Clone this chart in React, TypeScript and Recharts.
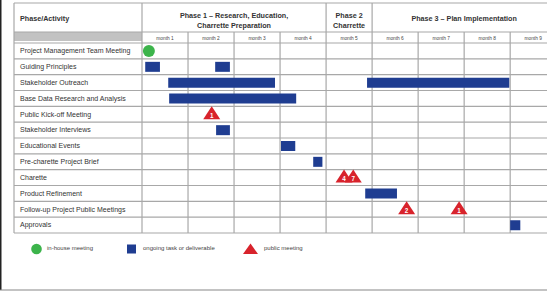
import React from "react";
import { ComposedChart, Bar, Scatter, XAxis, YAxis, Legend } from "recharts";

// ---------- data ----------
const ACTIVITIES = [
  "Project Management Team Meeting",
  "Guiding Principles",
  "Stakeholder Outreach",
  "Base Data Research and Analysis",
  "Public Kick-off Meeting",
  "Stakeholder Interviews",
  "Educational Events",
  "Pre-charette Project Brief",
  "Charette",
  "Product Refinement",
  "Follow-up Project Public Meetings",
  "Approvals",
];

const MONTHS = ["month 1", "month 2", "month 3", "month 4", "month 5", "month 6", "month 7", "month 8", "month 9"];

// [start, end] in months (0 = start of month 1)
const TASK_SEGMENT_1: ([number, number] | null)[] = [
  null,
  [0.07, 0.39],
  [0.57, 2.89],
  [0.59, 3.35],
  null,
  [1.61, 1.91],
  [3.02, 3.33],
  [3.72, 3.92],
  null,
  [4.85, 5.54],
  null,
  [8.0, 8.22],
];
const TASK_SEGMENT_2: ([number, number] | null)[] = [
  null,
  [1.59, 1.91],
  [4.89, 7.98],
  null, null, null, null, null, null, null, null, null,
];

const IN_HOUSE_MEETINGS = [{ activity: ACTIVITIES[0], month: 0.15 }];
const PUBLIC_MEETINGS = [
  { activity: ACTIVITIES[4], month: 1.515, label: "1" },
  { activity: ACTIVITIES[8], month: 4.39, label: "4" },
  { activity: ACTIVITIES[8], month: 4.59, label: "7" },
  { activity: ACTIVITIES[10], month: 5.75, label: "2" },
  { activity: ACTIVITIES[10], month: 6.89, label: "1" },
];

const PHASES = [
  { lines: ["Phase 1 – Research, Education,", "Charrette Preparation"], from: 0, to: 4 },
  { lines: ["Phase 2", "Charrette"], from: 4, to: 5 },
  { lines: ["Phase 3 – Plan Implementation"], from: 5, to: 9 },
];

const LEGEND_ITEMS = [
  { label: "in-house meeting", kind: "circle" },
  { label: "ongoing task or deliverable", kind: "square" },
  { label: "public meeting", kind: "triangle" },
];

const rows = ACTIVITIES.map((activity, i) => ({
  activity,
  seg1: TASK_SEGMENT_1[i],
  seg2: TASK_SEGMENT_2[i],
}));

// ---------- layout / style ----------
const W = 547;
const H = 293;
const TABLE_LEFT = 14;
const TABLE_TOP = 3;
const PHASE_BOTTOM = 32;
const PLOT_LEFT = 142;
const PLOT_TOP = 43;
const PLOT_BOTTOM = 233;
const X_MAX = 8.8;
const FONT = "'Liberation Sans', Arial, sans-serif";
const BLUE = "#1f3d91";
const RED = "#d8232c";
const GREEN = "#3cb44b";
const GRID = "#a8a8a8";
const LEGEND_POS = [
  { icon: 30, text: 47 },
  { icon: 126, text: 143 },
  { icon: 242, text: 264 },
];

const colX = (m: number) => PLOT_LEFT + m * ((W - PLOT_LEFT) / X_MAX);
const rowY = (i: number) => PLOT_TOP + i * ((PLOT_BOTTOM - PLOT_TOP) / ACTIVITIES.length);

const YTick = (props: any) => (
  <text x={TABLE_LEFT + 6} y={props.y} dy={2.4} fontSize={7} fontFamily={FONT} fill="#333" textAnchor="start">
    {props.payload.value}
  </text>
);

const XTick = (props: any) => (
  <text x={props.x} y={props.y} dy={-3.5} fontSize={4.8} fontFamily={FONT} fill="#444" textAnchor="middle">
    {MONTHS[Math.floor(props.payload.value)]}
  </text>
);

const CircleShape = (props: any) => <circle cx={props.cx} cy={props.cy} r={6} fill={GREEN} />;

const TriangleShape = (props: any) => {
  const { cx, cy, payload } = props;
  return (
    <g>
      <polygon points={`${cx},${cy - 8} ${cx - 8.5},${cy + 5} ${cx + 8.5},${cy + 5}`} fill={RED} />
      <text x={cx} y={cy + 3.5} fontSize={6.3} fontWeight="bold" fontFamily={FONT} fill="#fff" textAnchor="middle">
        {payload.label}
      </text>
    </g>
  );
};

const LegendContent = () => (
  <div style={{ position: "relative", width: W, height: 20, fontFamily: FONT }}>
    {LEGEND_ITEMS.map((it, i) => (
      <React.Fragment key={it.label}>
        <svg
          style={{ position: "absolute", left: LEGEND_POS[i].icon, top: 0 }}
          width={18}
          height={14}
        >
          {it.kind === "circle" && <circle cx={6.5} cy={7} r={5.3} fill={GREEN} />}
          {it.kind === "square" && <rect x={1} y={2.5} width={9} height={9} fill={BLUE} />}
          {it.kind === "triangle" && <polygon points="8.5,1.5 1,12 16,12" fill={RED} />}
        </svg>
        <span
          style={{
            position: "absolute",
            left: LEGEND_POS[i].text,
            top: 3,
            fontSize: 6,
            color: "#444",
            whiteSpace: "nowrap",
          }}
        >
          {it.label}
        </span>
      </React.Fragment>
    ))}
  </div>
);

const Background = () => {
  const hLines = ACTIVITIES.map((_, i) => rowY(i)).concat([rowY(ACTIVITIES.length)]);
  const bounds = MONTHS.map((_, i) => i);
  const phaseEdges = PHASES.map((p) => p.from);
  return (
    <svg width={W} height={H} style={{ position: "absolute", left: 0, top: 0 }}>
      <rect x={0} y={0} width={W} height={H} fill="#fff" />
      <line x1={0.75} y1={0} x2={0.75} y2={290} stroke="#222" strokeWidth={1.5} />
      <line x1={0} y1={290} x2={W} y2={290} stroke="#888" strokeWidth={1.2} />
      <rect x={TABLE_LEFT} y={PHASE_BOTTOM} width={PLOT_LEFT - TABLE_LEFT} height={9} fill="#c2c2c2" />
      <line x1={TABLE_LEFT} y1={TABLE_TOP} x2={W} y2={TABLE_TOP} stroke={GRID} strokeWidth={1.2} />
      <line x1={TABLE_LEFT} y1={PHASE_BOTTOM} x2={W} y2={PHASE_BOTTOM} stroke={GRID} strokeWidth={1.2} />
      <line x1={TABLE_LEFT} y1={TABLE_TOP} x2={TABLE_LEFT} y2={PLOT_BOTTOM} stroke={GRID} strokeWidth={1.2} />
      {hLines.map((y, i) => (
        <line key={"h" + i} x1={TABLE_LEFT} y1={y} x2={W} y2={y} stroke={GRID} strokeWidth={1.2} />
      ))}
      {bounds.map((m) => (
        <line
          key={"v" + m}
          x1={colX(m)}
          y1={phaseEdges.includes(m) ? TABLE_TOP : PHASE_BOTTOM}
          x2={colX(m)}
          y2={PLOT_BOTTOM}
          stroke={GRID}
          strokeWidth={1.2}
        />
      ))}
      <text x={TABLE_LEFT + 6} y={20.5} fontSize={7.2} fontWeight="bold" fontFamily={FONT} fill="#333">
        Phase/Activity
      </text>
      {PHASES.map((p, i) => {
        const cx = (colX(p.from) + colX(p.to)) / 2;
        const y0 = p.lines.length === 1 ? 20.5 : 17.5;
        return p.lines.map((ln, j) => (
          <text
            key={i + "-" + j}
            x={cx}
            y={y0 + j * 10}
            fontSize={7.2}
            fontWeight="bold"
            fontFamily={FONT}
            fill="#333"
            textAnchor="middle"
          >
            {ln}
          </text>
        ));
      })}
    </svg>
  );
};

export default function App() {
  return (
    <div style={{ position: "absolute", left: 0, top: 0, width: W, height: H, overflow: "hidden" }}>
      <Background />
      <div style={{ position: "absolute", left: 0, top: 0 }}>
        <ComposedChart
          width={W}
          height={H}
          data={rows}
          layout="vertical"
          margin={{ top: PLOT_TOP - 11, right: 0, bottom: H - PLOT_BOTTOM, left: TABLE_LEFT }}
          barGap={-10}
        >
          <XAxis
            type="number"
            orientation="top"
            domain={[0, X_MAX]}
            allowDataOverflow
            ticks={MONTHS.map((_, i) => i + 0.5)}
            tick={<XTick />}
            tickLine={false}
            axisLine={false}
            tickSize={0}
            tickMargin={0}
            height={11}
            interval={0}
          />
          <YAxis
            type="category"
            dataKey="activity"
            width={PLOT_LEFT - TABLE_LEFT}
            tick={<YTick />}
            tickLine={false}
            axisLine={false}
            allowDuplicatedCategory={false}
            interval={0}
          />
          <Bar dataKey="seg1" fill={BLUE} barSize={10} isAnimationActive={false} />
          <Bar dataKey="seg2" fill={BLUE} barSize={10} isAnimationActive={false} />
          <Scatter data={IN_HOUSE_MEETINGS} dataKey="month" shape={<CircleShape />} isAnimationActive={false} />
          <Scatter data={PUBLIC_MEETINGS} dataKey="month" shape={<TriangleShape />} isAnimationActive={false} />
          <Legend
            layout="horizontal"
            verticalAlign="middle"
            align="center"
            content={<LegendContent />}
            wrapperStyle={{ left: 0, top: 242, width: W, height: 20 }}
          />
        </ComposedChart>
      </div>
    </div>
  );
}
